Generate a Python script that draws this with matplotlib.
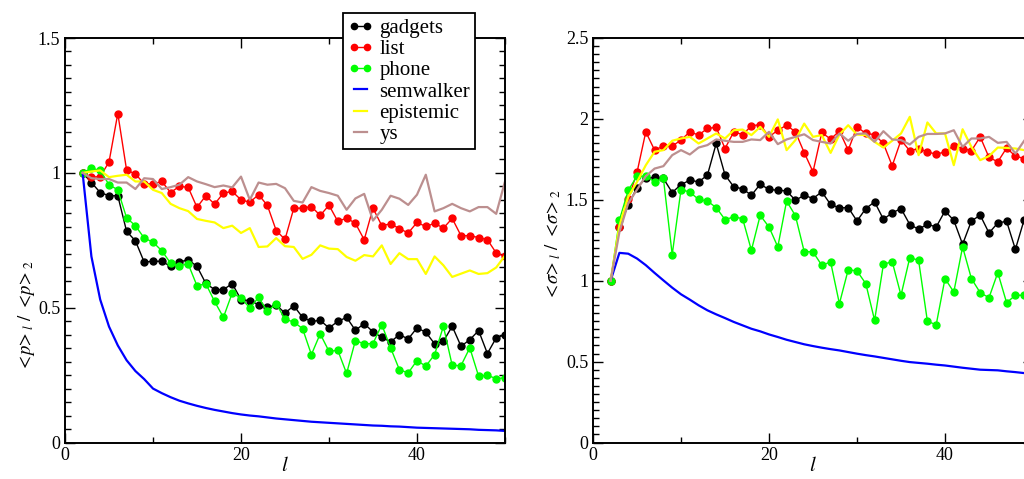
import numpy as np
import matplotlib
matplotlib.use("Agg")
import matplotlib.pyplot as plt
from matplotlib.ticker import MultipleLocator, FormatStrFormatter

plt.rcParams['font.family'] = ['Liberation Serif', 'DejaVu Serif']
plt.rcParams['mathtext.fontset'] = 'stix'

# walk length l
l_left = np.arange(2, 51)
l_right = np.arange(2, 50)

# <p>_l / <p>_2
gadgets_p = [1.0, 0.964, 0.927, 0.915, 0.915, 0.783, 0.748, 0.669, 0.672, 0.672,
             0.653, 0.669, 0.678, 0.653, 0.59, 0.567, 0.567, 0.589, 0.53, 0.526,
             0.511, 0.501, 0.51, 0.48, 0.507, 0.464, 0.449, 0.453, 0.425, 0.449,
             0.464, 0.416, 0.441, 0.41, 0.39, 0.373, 0.40, 0.384, 0.425, 0.409,
             0.366, 0.375, 0.431, 0.357, 0.381, 0.415, 0.33, 0.388, 0.40]
list_p = [1.0, 0.984, 0.986, 1.04, 1.22, 1.01, 0.996, 0.959, 0.959, 0.968,
          0.927, 0.95, 0.946, 0.872, 0.915, 0.884, 0.925, 0.931, 0.9, 0.891,
          0.919, 0.879, 0.786, 0.753, 0.869, 0.869, 0.875, 0.842, 0.88, 0.82,
          0.832, 0.813, 0.752, 0.869, 0.804, 0.811, 0.793, 0.777, 0.816, 0.801,
          0.813, 0.795, 0.831, 0.767, 0.767, 0.76, 0.752, 0.703, 0.69]
phone_p = [1.0, 1.017, 1.009, 0.956, 0.937, 0.833, 0.804, 0.758, 0.743, 0.711,
           0.665, 0.656, 0.662, 0.581, 0.589, 0.523, 0.464, 0.554, 0.536, 0.499,
           0.538, 0.486, 0.515, 0.457, 0.447, 0.422, 0.326, 0.403, 0.338, 0.342,
           0.256, 0.378, 0.366, 0.367, 0.437, 0.351, 0.27, 0.258, 0.304, 0.283,
           0.326, 0.431, 0.286, 0.285, 0.351, 0.246, 0.249, 0.237, 0.24]
semwalker_p = [1.0, 0.69, 0.53, 0.43, 0.36, 0.305, 0.265, 0.235, 0.20, 0.183,
               0.168, 0.155, 0.145, 0.136, 0.128, 0.121, 0.115, 0.109, 0.104, 0.10,
               0.097, 0.093, 0.089, 0.086, 0.083, 0.08, 0.077, 0.075, 0.073, 0.071,
               0.069, 0.067, 0.065, 0.063, 0.062, 0.06, 0.059, 0.057, 0.055, 0.054,
               0.053, 0.052, 0.051, 0.05, 0.049, 0.047, 0.046, 0.045, 0.043]
epistemic_p = [1.0, 1.005, 1.009, 0.984, 0.989, 0.993, 0.968, 0.968, 0.937, 0.925,
               0.885, 0.869, 0.858, 0.829, 0.822, 0.816, 0.795, 0.804, 0.777, 0.795,
               0.725, 0.727, 0.758, 0.728, 0.725, 0.681, 0.696, 0.731, 0.719, 0.717,
               0.688, 0.674, 0.695, 0.69, 0.731, 0.662, 0.702, 0.68, 0.68, 0.625,
               0.69, 0.657, 0.614, 0.626, 0.638, 0.625, 0.628, 0.649, 0.693]
ys_p = [1.0, 0.98, 0.977, 0.977, 0.964, 0.964, 0.94, 0.98, 0.977, 0.94,
        0.947, 0.956, 0.984, 0.968, 0.958, 0.947, 0.953, 0.946, 0.986, 0.9,
        0.964, 0.956, 0.959, 0.943, 0.896, 0.89, 0.947, 0.933, 0.925, 0.915,
        0.863, 0.905, 0.922, 0.823, 0.863, 0.915, 0.904, 0.881, 0.919, 0.993,
        0.857, 0.869, 0.885, 0.869, 0.857, 0.873, 0.873, 0.848, 0.968]

# <sigma>_l / <sigma>_2
gadgets_s = [1.0, 1.33, 1.467, 1.576, 1.632, 1.638, 1.632, 1.545, 1.594, 1.621,
             1.611, 1.652, 1.848, 1.654, 1.58, 1.568, 1.528, 1.596, 1.564, 1.559,
             1.555, 1.497, 1.528, 1.508, 1.549, 1.471, 1.45, 1.452, 1.369, 1.446,
             1.487, 1.38, 1.419, 1.446, 1.347, 1.318, 1.349, 1.332, 1.431, 1.373,
             1.225, 1.369, 1.405, 1.295, 1.357, 1.367, 1.194, 1.378]
list_s = [1.0, 1.332, 1.504, 1.669, 1.92, 1.807, 1.832, 1.832, 1.869, 1.92,
          1.9, 1.941, 1.948, 1.817, 1.92, 1.903, 1.957, 1.965, 1.889, 1.93,
          1.961, 1.92, 1.792, 1.673, 1.916, 1.875, 1.925, 1.807, 1.951, 1.91,
          1.903, 1.848, 1.71, 1.869, 1.803, 1.817, 1.796, 1.782, 1.796, 1.834,
          1.817, 1.803, 1.889, 1.762, 1.735, 1.82, 1.77, 1.755]
phone_s = [1.0, 1.374, 1.559, 1.646, 1.646, 1.611, 1.632, 1.161, 1.563, 1.548,
           1.502, 1.492, 1.452, 1.378, 1.394, 1.384, 1.188, 1.404, 1.332, 1.209,
           1.492, 1.402, 1.18, 1.178, 1.095, 1.116, 0.858, 1.068, 1.06, 0.982,
           0.755, 1.101, 1.118, 0.91, 1.143, 1.126, 0.749, 0.728, 1.013, 0.93,
           1.209, 1.013, 0.926, 0.895, 1.05, 0.864, 0.91, 0.91]
semwalker_s = [1.0, 1.172, 1.167, 1.137, 1.096, 1.048, 1.002, 0.957, 0.916, 0.883,
               0.848, 0.817, 0.792, 0.769, 0.745, 0.724, 0.703, 0.687, 0.668, 0.652,
               0.635, 0.621, 0.607, 0.596, 0.586, 0.577, 0.569, 0.559, 0.549, 0.54,
               0.532, 0.523, 0.514, 0.505, 0.497, 0.492, 0.487, 0.481, 0.476, 0.469,
               0.462, 0.456, 0.45, 0.448, 0.446, 0.44, 0.435, 0.429]
epistemic_s = [1.0, 1.34, 1.518, 1.61, 1.714, 1.797, 1.807, 1.865, 1.879, 1.889,
               1.848, 1.879, 1.91, 1.879, 1.93, 1.934, 1.9, 1.951, 1.889, 1.997,
               1.807, 1.869, 1.971, 1.889, 1.9, 1.79, 1.903, 1.961, 1.903, 1.9,
               1.858, 1.823, 1.865, 1.91, 2.013, 1.776, 1.978, 1.91, 1.91, 1.714,
               1.936, 1.827, 1.745, 1.77, 1.823, 1.821, 1.817, 1.807]
ys_s = [1.0, 1.3, 1.478, 1.563, 1.646, 1.693, 1.708, 1.776, 1.807, 1.78,
        1.823, 1.838, 1.873, 1.865, 1.858, 1.858, 1.873, 1.869, 1.92, 1.844,
        1.873, 1.889, 1.905, 1.869, 1.858, 1.848, 1.91, 1.865, 1.907, 1.91,
        1.858, 1.924, 1.873, 1.869, 1.842, 1.889, 1.907, 1.907, 1.91, 1.93,
        1.827, 1.879, 1.879, 1.889, 1.852, 1.858, 1.786, 1.865]

names = ['gadgets', 'list', 'phone', 'semwalker', 'epistemic', 'ys']
colors = ['black', '#ff0000', '#00ff00', '#0000ff', '#ffff00', '#bc8f8f']
marked = [True, True, True, False, False, False]

fig = plt.figure(figsize=(10.24, 4.79), dpi=100)
ax1 = fig.add_axes([65 / 1024, 36.5 / 479, 440 / 1024, 404.5 / 479])
ax2 = fig.add_axes([593 / 1024, 36.5 / 479, 440 / 1024, 404.5 / 479])


def draw(ax, x, series):
    for name, y, c, m in zip(names, series, colors, marked):
        if m:
            ax.plot(x, y, color=c, lw=1.0, marker='o', ms=5, mec=c, mfc=c, label=name)
        else:
            ax.plot(x, y, color=c, lw=1.6, label=name)


draw(ax1, l_left, [gadgets_p, list_p, phone_p, semwalker_p, epistemic_p, ys_p])
draw(ax2, l_right, [gadgets_s, list_s, phone_s, semwalker_s, epistemic_s, ys_s])

ax1.set_ylim(0, 1.5)
ax2.set_ylim(0, 2.5)
for ax in (ax1, ax2):
    ax.set_xlim(0, 50)
    ax.xaxis.set_major_locator(MultipleLocator(20))
    ax.xaxis.set_minor_locator(MultipleLocator(10))
    ax.yaxis.set_major_locator(MultipleLocator(0.5))
    ax.yaxis.set_minor_locator(MultipleLocator(0.05))
    ax.yaxis.set_major_formatter(FormatStrFormatter('%g'))
    ax.tick_params(which='both', direction='in', top=True, right=True,
                   labelsize=13, width=1.0)
    ax.tick_params(which='major', length=7)
    ax.tick_params(which='minor', length=4)
    for s in ax.spines.values():
        s.set_linewidth(1.4)
    ax.set_xlabel('$l$', fontsize=15)
    ax.xaxis.set_label_coords(0.5, -0.035)

ax1.set_ylabel(r'$<\!p\!>_{l}\ /\ <\!p\!>_{2}$', fontsize=13.5)
ax1.yaxis.set_label_coords(-0.064, 0.313)
ax2.set_ylabel(r'$<\!\sigma\!>_{l}\ /\ <\!\sigma\!>_{2}$', fontsize=13.5)
ax2.yaxis.set_label_coords(-0.068, 0.49)

leg = ax1.legend(loc='upper left', bbox_to_anchor=(343 / 1024, 1 - 13 / 479),
                 bbox_transform=fig.transFigure, fontsize=15, numpoints=2,
                 handlelength=1.2, handletextpad=0.3, labelspacing=0.08,
                 borderpad=0.25, borderaxespad=0, fancybox=False, framealpha=1,
                 edgecolor='black', markerscale=0.9)
leg.get_frame().set_linewidth(1.3)

fig.savefig('out.png', dpi=100)
